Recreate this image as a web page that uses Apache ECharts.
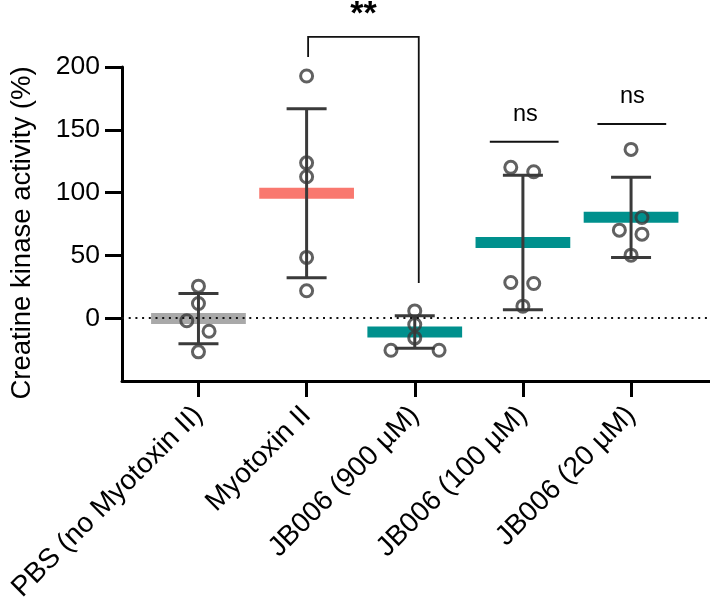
<!DOCTYPE html>
<html>
<head>
<meta charset="utf-8">
<script src="https://cdn.jsdelivr.net/npm/echarts@6/dist/echarts.min.js"></script>
<style>
html,body{margin:0;padding:0;background:#fff;}
#chart{width:710px;height:605px;}
</style>
</head>
<body>
<div id="chart"></div>
<script>
// ---- data ----
const categories = ['PBS (no Myotoxin II)', 'Myotoxin II', 'JB006 (900 µM)', 'JB006 (100 µM)', 'JB006 (20 µM)'];
const yTicks = [0, 50, 100, 150, 200];
const means = [-0.3, 99.5, -11, 60.3, 80.3];
const sds = [20, 67.3, 12.9, 53.5, 31.9];
const pbsValues = [25.5, 11.7, -2, -10.4, -26.8];
const myoValues = [192.8, 123.7, 112.6, 48.4, 21.8];
const jb900Values = [5.8, -5, -15.7, -25.5, -25.5];
const jb100Values = [120.1, 116.6, 28.4, 27.6, 9.6];
const jb20Values = [134.4, 80.2, 70.1, 66.9, 50.2];
// horizontal jitter of each point within its group (category units)
const pbsJitter = [0, 0, -0.108, 0.098, 0];
const myoJitter = [0, 0, 0, 0, 0];
const jb900Jitter = [0, 0, 0, -0.22, 0.225];
const jb100Jitter = [-0.112, 0.1, -0.112, 0.1, 0];
const jb20Jitter = [0, 0.101, -0.108, 0.101, 0];
// significance annotations
const bracketStars = {label: '**', from: 1.014, to: 2.037, top: 224, leftEnd: 208, rightEnd: 28, textY: 242};
const nsMarks = [
  {label: 'ns', from: 2.694, to: 3.33, y: 140.5, textX: 3.023, textY: 162.5},
  {label: 'ns', from: 3.689, to: 4.325, y: 154.6, textX: 4.012, textY: 176.3}
];

// ---- styles ----
const FONT = "'Liberation Sans', Arial, Helvetica, sans-serif";
const DARK = '#3a3a3a';
const groupColors = ['#A9A9A9', '#F9786F', '#00908D', '#00908D', '#00908D'];

const groups = [pbsValues, myoValues, jb900Values, jb100Values, jb20Values];
const jitters = [pbsJitter, myoJitter, jb900Jitter, jb100Jitter, jb20Jitter];
const pointData = [];
groups.forEach((vals, gi) => vals.forEach((v, k) => pointData.push([gi + jitters[gi][k], v])));

const chart = echarts.init(document.getElementById('chart'), null, {renderer: 'canvas'});
chart.setOption({
  animation: false,
  backgroundColor: '#fff',
  grid: {left: 120, right: 0, top: 67, bottom: 224, containLabel: false},
  xAxis: {
    type: 'value', min: -0.707, max: 4.73,
    axisLine: {show: true, onZero: false, lineStyle: {color: '#000', width: 3}},
    axisTick: {show: true, customValues: [0, 1, 2, 3, 4], length: 16, lineStyle: {color: '#000', width: 3}},
    axisLabel: {
      customValues: [0, 1, 2, 3, 4],
      formatter: v => categories[Math.round(v)],
      rotate: 45, fontSize: 28, fontFamily: FONT, color: '#000', margin: 30
    },
    splitLine: {show: false}
  },
  yAxis: {
    type: 'value', min: -50, max: 200,
    name: 'Creatine kinase activity (%)', nameLocation: 'middle', nameGap: 86,
    nameTextStyle: {fontSize: 27.5, fontFamily: FONT, color: '#000', padding: [0, 18, 0, 0]},
    axisLine: {show: true, onZero: false, lineStyle: {color: '#000', width: 3}},
    axisTick: {show: true, customValues: yTicks, length: 17, lineStyle: {color: '#000', width: 3}},
    axisLabel: {customValues: yTicks, fontSize: 26.5, fontFamily: FONT, color: '#000', margin: 22},
    splitLine: {show: false}
  },
  series: [
    {
      type: 'line', data: [], z: 1,
      markLine: {
        silent: true, symbol: 'none', label: {show: false},
        lineStyle: {color: '#111', width: 2, type: [2, 4.7]},
        data: [{yAxis: 0}]
      }
    },
    {
      type: 'custom', z: 2,
      data: means.map((m, i) => [i, m]),
      renderItem: (params, api) => {
        const i = api.value(0), m = api.value(1);
        const l = api.coord([i - 0.438, m]);
        const r = api.coord([i + 0.438, m]);
        return {type: 'rect', shape: {x: l[0], y: l[1] - 5.5, width: r[0] - l[0], height: 11},
          style: {fill: groupColors[i]}};
      }
    },
    {
      type: 'custom', z: 3,
      data: means.map((m, i) => [i, m, sds[i]]),
      renderItem: (params, api) => {
        const i = api.value(0), m = api.value(1), s = api.value(2);
        const t = api.coord([i, m + s]);
        const b = api.coord([i, m - s]);
        const st = {stroke: DARK, lineWidth: 3, fill: null};
        return {type: 'group', children: [
          {type: 'line', shape: {x1: t[0], y1: t[1], x2: b[0], y2: b[1]}, style: st},
          {type: 'line', shape: {x1: t[0] - 20, y1: t[1], x2: t[0] + 20, y2: t[1]}, style: st},
          {type: 'line', shape: {x1: b[0] - 20, y1: b[1], x2: b[0] + 20, y2: b[1]}, style: st}
        ]};
      }
    },
    {
      type: 'scatter', z: 4,
      data: pointData,
      symbol: 'circle', symbolSize: 12,
      itemStyle: {color: 'rgba(0,0,0,0)', borderColor: DARK, borderWidth: 3}
    },
    {
      type: 'custom', z: 5, clip: false,
      data: [0],
      renderItem: (params, api) => {
        const b = bracketStars;
        const p1 = api.coord([b.from, b.leftEnd]);
        const p2 = api.coord([b.from, b.top]);
        const p3 = api.coord([b.to, b.top]);
        const p4 = api.coord([b.to, b.rightEnd]);
        const ts = api.coord([(b.from + b.to) / 2, b.textY]);
        const children = [
          {type: 'polyline', shape: {points: [p1, p2, p3, p4]}, style: {stroke: '#111', lineWidth: 1.8, fill: null}},
          {type: 'text', x: ts[0], y: ts[1], style: {text: b.label, fontSize: 34, fontWeight: 'bold', fontFamily: FONT, fill: '#000', align: 'center', verticalAlign: 'middle'}}
        ];
        nsMarks.forEach(n => {
          const a = api.coord([n.from, n.y]);
          const c = api.coord([n.to, n.y]);
          const t = api.coord([n.textX, n.textY]);
          children.push({type: 'line', shape: {x1: a[0], y1: a[1], x2: c[0], y2: c[1]}, style: {stroke: '#111', lineWidth: 1.8}});
          children.push({type: 'text', x: t[0], y: t[1], style: {text: n.label, fontSize: 23.5, fontFamily: FONT, fill: '#000', align: 'center', verticalAlign: 'middle'}});
        });
        return {type: 'group', children};
      }
    }
  ]
});
</script>
</body>
</html>
